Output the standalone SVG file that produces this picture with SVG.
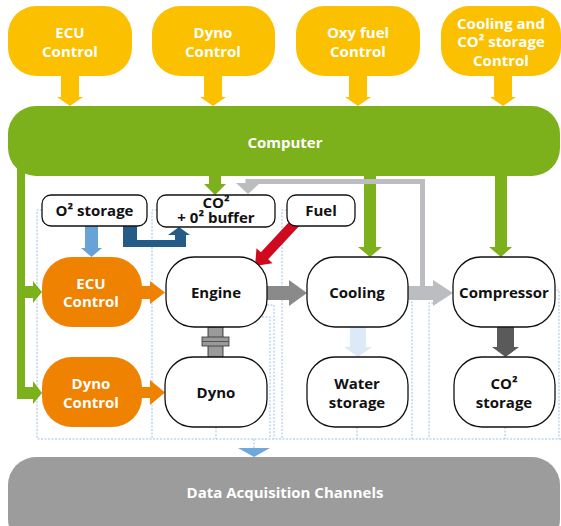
<svg xmlns="http://www.w3.org/2000/svg" width="561" height="526" viewBox="0 0 561 526">
<style>
text{font-family:"Open Sans","Noto Sans","Liberation Sans",sans-serif;font-weight:bold;font-size:15px;text-anchor:middle}
.w{fill:#fff}
.k{fill:#111}
.ctl{fill:#FBC100}
.node{fill:#fff;stroke:#111;stroke-width:1.3}
.orange{fill:#EF8200}
.dot{fill:none;stroke:#9DC3E6;stroke-width:1;stroke-dasharray:2 1.5}
</style>
<rect width="561" height="526" fill="#fff"/>

<g id="connectors">
  <!-- dotted data lines -->
  <path class="dot" d="M42,210H37V439H561"/>
  <path class="dot" d="M157,210H152V439"/>
  <path class="dot" d="M287,210H282V439"/>
  <path class="dot" d="M216,427V439"/>
  <path class="dot" d="M262,317H270V439"/>
  <path class="dot" d="M267,305H274V439"/>
  <path class="dot" d="M357,427V439"/>
  <path class="dot" d="M404,302H412V439"/>
  <path class="dot" d="M437,303H429V439"/>
  <path class="dot" d="M505,427V439"/>
  <path class="dot" d="M553,290H559V439"/>
  <path class="dot" d="M254,439V449"/>
  <polygon points="238,448 270,448 254,457" fill="#6FA8DC"/>

  <!-- yellow control arrows -->
  <polygon points="61,76 79,76 79,97 83,97 70,106 57,97 61,97" fill="#FBC100"/>
  <polygon points="204,76 222,76 222,97 226,97 213,106 200,97 204,97" fill="#FBC100"/>
  <polygon points="349,76 367,76 367,97 371,97 358,106 345,97 349,97" fill="#FBC100"/>
  <polygon points="494,76 512,76 512,97 516,97 503,106 490,97 494,97" fill="#FBC100"/>

  <!-- green computer lines -->
  <path d="M17,160V399H34V387H25V298H34V286H25V160Z" fill="#7CB11B"/>
  <polygon points="33,281 42,292 33,303" fill="#7CB11B"/>
  <polygon points="33,381 42,393 33,404" fill="#7CB11B"/>
  <polygon points="209,170 221,170 221,184 226,184 215,195 204,184 209,184" fill="#7CB11B"/>
  <polygon points="364,170 376,170 376,247 382,247 370,257 358,247 364,247" fill="#7CB11B"/>
  <polygon points="495,170 507,170 507,247 512,247 501,257 489,247 495,247" fill="#7CB11B"/>

  <!-- gray recirculation -->
  <path d="M422.5,293V181.5H248V185" fill="none" stroke="#BBBDC0" stroke-width="5"/>
  <polygon points="236,183 260,183 248,194" fill="#BBBDC0"/>

  <!-- O2 storage to ECU -->
  <polygon points="85,226 98,226 98,248 102,248 91.5,257 81,248 85,248" fill="#67A3D6"/>
  <!-- O2 storage to buffer -->
  <path d="M123,226H137V240H175V235H168L179,227L190,235H186V247H123Z" fill="#245C87"/>

  <!-- fuel to engine -->
  <polygon points="292.3,218.6 260.9,252.3 256.5,248.3 255,266 272.6,263.3 268.2,259.2 299.7,225.4" fill="#CF0A1F"/>

  <!-- orange to engine/dyno -->
  <polygon points="140,286 150,286 150,281 165,292.5 150,304 150,299 140,299" fill="#EF8200"/>
  <polygon points="140,387 150,387 150,380 165,392.5 150,405 150,398 140,398" fill="#EF8200"/>

  <!-- engine to cooling -->
  <polygon points="267,286 289,286 289,280 307,293 289,306 289,300 267,300" fill="#8A8A8A"/>
  <!-- cooling to compressor -->
  <polygon points="408,286 433,286 433,280 453,293 433,306 433,300 408,300" fill="#BBBDC0"/>
  <!-- cooling to water -->
  <polygon points="350,327 366,327 366,347 372,347 358,357 344,347 350,347" fill="#DCE9F6"/>
  <!-- compressor to CO2 storage -->
  <polygon points="497,327 514,327 514,347 519,347 505.5,357 492,347 497,347" fill="#5A5A5A"/>

  <!-- engine-dyno coupling -->
  <rect x="208" y="327" width="15" height="30" fill="#9A9A9A" stroke="#222" stroke-width="0.8"/>
  <rect x="202" y="337" width="27" height="9" fill="#9A9A9A" stroke="#333" stroke-width="0.8"/>
  <line x1="202" y1="341.5" x2="229" y2="341.5" stroke="#444" stroke-width="0.8"/>
</g>

<g id="ecu-control-top">
  <rect class="ctl" x="8" y="6" width="124" height="70" rx="28"/>
  <text class="w" x="70" y="38">ECU</text>
  <text class="w" x="70" y="57">Control</text>
</g>
<g id="dyno-control-top">
  <rect class="ctl" x="152" y="6" width="123" height="70" rx="28"/>
  <text class="w" x="213" y="38">Dyno</text>
  <text class="w" x="213" y="57">Control</text>
</g>
<g id="oxy-fuel-control">
  <rect class="ctl" x="296" y="6" width="124" height="70" rx="28"/>
  <text class="w" x="358" y="38">Oxy fuel</text>
  <text class="w" x="358" y="57">Control</text>
</g>
<g id="cooling-co2-control">
  <rect class="ctl" x="441" y="6" width="120" height="70" rx="28"/>
  <text class="w" x="501" y="29">Cooling and</text>
  <text class="w" x="501" y="47">CO² storage</text>
  <text class="w" x="501" y="66">Control</text>
</g>

<g id="computer">
  <rect x="8" y="106" width="552" height="70" rx="28" fill="#7CB11B"/>
  <text class="w" x="285" y="148">Computer</text>
</g>

<g id="o2-storage">
  <rect class="node" x="42" y="195" width="105" height="31" rx="9"/>
  <text class="k" x="94.5" y="216">O² storage</text>
</g>
<g id="co2-o2-buffer">
  <rect class="node" x="157" y="195" width="118" height="32" rx="9"/>
  <text class="k" x="216" y="208">CO²</text>
  <text class="k" x="216" y="223">+ 0² buffer</text>
</g>
<g id="fuel">
  <rect class="node" x="287" y="195" width="68" height="31" rx="9"/>
  <text class="k" x="321" y="216">Fuel</text>
</g>

<g id="ecu-control">
  <rect class="orange" x="42" y="257" width="100" height="70" rx="30"/>
  <text class="w" x="91" y="289">ECU</text>
  <text class="w" x="91" y="307">Control</text>
</g>
<g id="dyno-control">
  <rect class="orange" x="42" y="357" width="100" height="70" rx="30"/>
  <text class="w" x="91" y="389">Dyno</text>
  <text class="w" x="91" y="408">Control</text>
</g>

<g id="engine">
  <rect class="node" x="166" y="257" width="101" height="70" rx="28"/>
  <text class="k" x="216" y="298">Engine</text>
</g>
<g id="dyno">
  <rect class="node" x="165" y="357" width="102" height="70" rx="28"/>
  <text class="k" x="216" y="398">Dyno</text>
</g>
<g id="cooling">
  <rect class="node" x="307" y="257" width="101" height="70" rx="28"/>
  <text class="k" x="357" y="298">Cooling</text>
</g>
<g id="compressor">
  <rect class="node" x="453" y="257" width="102" height="70" rx="28"/>
  <text class="k" x="504" y="298">Compressor</text>
</g>
<g id="water-storage">
  <rect class="node" x="307" y="357" width="101" height="70" rx="28"/>
  <text class="k" x="357" y="389">Water</text>
  <text class="k" x="357" y="408">storage</text>
</g>
<g id="co2-storage">
  <rect class="node" x="454" y="357" width="101" height="70" rx="28"/>
  <text class="k" x="504" y="389">CO²</text>
  <text class="k" x="504" y="408">storage</text>
</g>

<g id="data-acquisition">
  <rect x="8" y="457" width="552" height="90" rx="28" fill="#9C9C9C"/>
  <text class="w" x="285" y="498">Data Acquisition Channels</text>
</g>
</svg>
